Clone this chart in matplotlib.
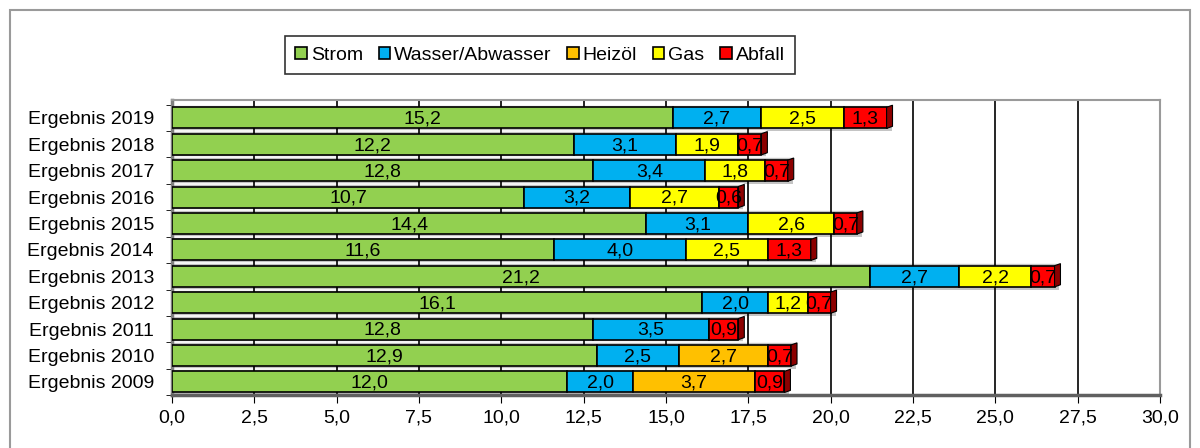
import matplotlib
matplotlib.use("Agg")
import matplotlib.pyplot as plt
from matplotlib.patches import Rectangle, Polygon
from matplotlib.colors import to_rgb
import numpy as np

plt.rcParams["font.family"] = ["Liberation Sans", "DejaVu Sans"]

# rows from bottom (2009) to top (2019)
years = [2009, 2010, 2011, 2012, 2013, 2014, 2015, 2016, 2017, 2018, 2019]
series = ["Strom", "Wasser/Abwasser", "Heizöl", "Gas", "Abfall"]
strom = [12.0, 12.9, 12.8, 16.1, 21.2, 11.6, 14.4, 10.7, 12.8, 12.2, 15.2]
wasser = [2.0, 2.5, 3.5, 2.0, 2.7, 4.0, 3.1, 3.2, 3.4, 3.1, 2.7]
heizoel = [3.7, 2.7, 0, 0, 0, 0, 0, 0, 0, 0, 0]
gas = [0, 0, 0, 1.2, 2.2, 2.5, 2.6, 2.7, 1.8, 1.9, 2.5]
abfall = [0.9, 0.7, 0.9, 0.7, 0.7, 1.3, 0.7, 0.6, 0.7, 0.7, 1.3]
colors = ["#92d050", "#00b0f0", "#ffc000", "#ffff00", "#ff0000"]
xticks = np.arange(0, 30.01, 2.5)

data = [strom, wasser, heizoel, gas, abfall]
labels = ["Ergebnis %d" % y for y in years]
y = np.arange(len(years))
totals = np.sum(data, axis=0)
bar_h = 0.8

fig = plt.figure(figsize=(12, 4.48), dpi=100)
ax = fig.add_axes([0.1433, 0.118, 0.8233, 0.659])

# outer chart frame
fig.patches.append(Rectangle((10 / 1200, -0.05), 1180 / 1200, 1.0 - 10 / 448 + 0.05,
                             transform=fig.transFigure, fill=False,
                             edgecolor="#9a9a9a", linewidth=1.5))

# gridlines behind everything
for xv in xticks[1:]:
    ax.axvline(xv, color="black", linewidth=1.2, zorder=1)

# 3d floor strips under each row
for i, t in enumerate(totals):
    ax.add_patch(Rectangle((0, i - 0.5), t + 0.15, 1.0, facecolor="#c4c4c4",
                           edgecolor="none", zorder=0.5))
    ax.plot([0, t + 0.15], [i + 0.5, i + 0.5], color="white", linewidth=1.2, zorder=0.6)

# stacked bars
left = np.zeros(len(years))
for name, vals, col in zip(series, data, colors):
    vals = np.array(vals)
    ax.barh(y, vals, left=left, height=bar_h, color=col, edgecolor="black",
            linewidth=1.2, label=name, zorder=3)
    for yi, (l, v) in enumerate(zip(left, vals)):
        if v > 0:
            ax.text(l + v / 2, yi - 0.05, ("%.1f" % v).replace(".", ","),
                    ha="center", va="center", fontsize=14, zorder=5)
    left += vals

# right-hand depth face of each bar
last_color = []
for i in range(len(years)):
    for vals, col in reversed(list(zip(data, colors))):
        if vals[i] > 0:
            last_color.append(col)
            break
for i, (t, col) in enumerate(zip(totals, last_color)):
    dark = tuple(c * 0.55 for c in to_rgb(col))
    d = 0.18
    ax.add_patch(Polygon([(t, i - bar_h / 2), (t + d, i - bar_h / 2 + 0.08),
                          (t + d, i + bar_h / 2 + 0.08), (t, i + bar_h / 2)],
                         closed=True, facecolor=dark, edgecolor="black",
                         linewidth=0.8, zorder=3.5))

ax.set_xlim(0, 30)
ax.set_ylim(-0.5, 10.68)
ax.set_xticks(xticks)
ax.set_xticklabels([("%.1f" % v).replace(".", ",") for v in xticks], fontsize=14)
ax.set_yticks(y)
ax.set_yticklabels(labels, fontsize=14)
ax.set_yticks(np.arange(-0.5, 10.6, 1.0), minor=True)
ax.tick_params(axis="y", which="major", length=0, pad=13)
ax.tick_params(axis="y", which="minor", length=4, color="black")
ax.tick_params(axis="x", length=6, color="black", pad=4)

for side in ["top", "right"]:
    ax.spines[side].set_color("#9a9a9a")
    ax.spines[side].set_linewidth(1.5)
ax.spines["left"].set_color("#7f7f7f")
ax.spines["left"].set_linewidth(2.5)
ax.spines["bottom"].set_color("#606060")
ax.spines["bottom"].set_linewidth(2.5)

leg = ax.legend(loc="center", bbox_to_anchor=(0.45, 0.877), bbox_transform=fig.transFigure,
                ncol=5, fontsize=14, frameon=True, fancybox=False, edgecolor="black",
                handlelength=0.6, handleheight=0.6, handletextpad=0.2,
                columnspacing=0.8, borderpad=0.55)
leg.get_frame().set_linewidth(1.2)

fig.savefig("out.png", dpi=100)
plt.close(fig)
